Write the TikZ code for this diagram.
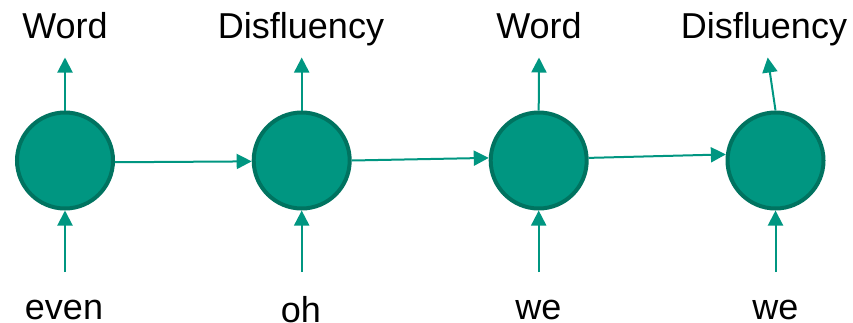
\documentclass[tikz,border=0pt]{standalone}
\usepackage{fontspec}
\setmainfont{Liberation Sans}
\usetikzlibrary{arrows.meta}
\definecolor{cellfill}{RGB}{0,150,129}
\definecolor{cellline}{RGB}{0,115,96}
\definecolor{flow}{RGB}{0,150,129}
\begin{document}
\begin{tikzpicture}[x=1pt,y=-1pt,
  cell/.style={circle,minimum size=96pt,inner sep=0pt,fill=cellfill,draw=cellline,line width=4pt},
  flowarrow/.style={draw=flow,line width=2pt,-{Triangle[width=15pt,length=15pt]}},
  lbl/.style={anchor=base,inner sep=0pt,font=\fontsize{36}{40}\selectfont}]
\useasboundingbox (0,0) rectangle (853,322);

% recurrent cells
\node[cell] (c1) at (65,160.5) {};
\node[cell] (c2) at (301.7,160.5) {};
\node[cell] (c3) at (538.7,160.5) {};
\node[cell] (c4) at (775.5,160.5) {};

% input words
\node[lbl] (i1) at (64,319.5) {even};
\node[lbl] (i2) at (301,322.5) {oh};
\node[lbl] (i3) at (538.3,319.5) {we};
\node[lbl] (i4) at (775.3,319.5) {we};

% output tags
\node[lbl] (o1) at (65,38.3) {Word};
\node[lbl] (o2) at (301,38.3) {Disfluency};
\node[lbl] (o3) at (539,38.3) {Word};
\node[lbl] (o4) at (764,38.3) {Disfluency};

% input arrow tails and output arrow heads
\coordinate (b1) at (65,272);
\coordinate (b2) at (301.7,272);
\coordinate (b3) at (538.7,272);
\coordinate (b4) at (775.5,272);
\coordinate (t1) at (65,57.5);
\coordinate (t2) at (301.7,57.5);
\coordinate (t3) at (539,57.5);
\coordinate (t4) at (767.7,57.5);

\foreach \k in {1,2,3,4} {
  \draw[flowarrow] (b\k) -- (c\k.south);
  \draw[flowarrow] (c\k.north) -- (t\k);
}

% recurrent connections
\draw[flowarrow] (c1.-2.9) -- (c2.181.4);
\draw[flowarrow] (c2.0.6) -- (c3.177.5);
\draw[flowarrow] (c3.3.8) -- (c4.173.7);
\end{tikzpicture}
\end{document}
